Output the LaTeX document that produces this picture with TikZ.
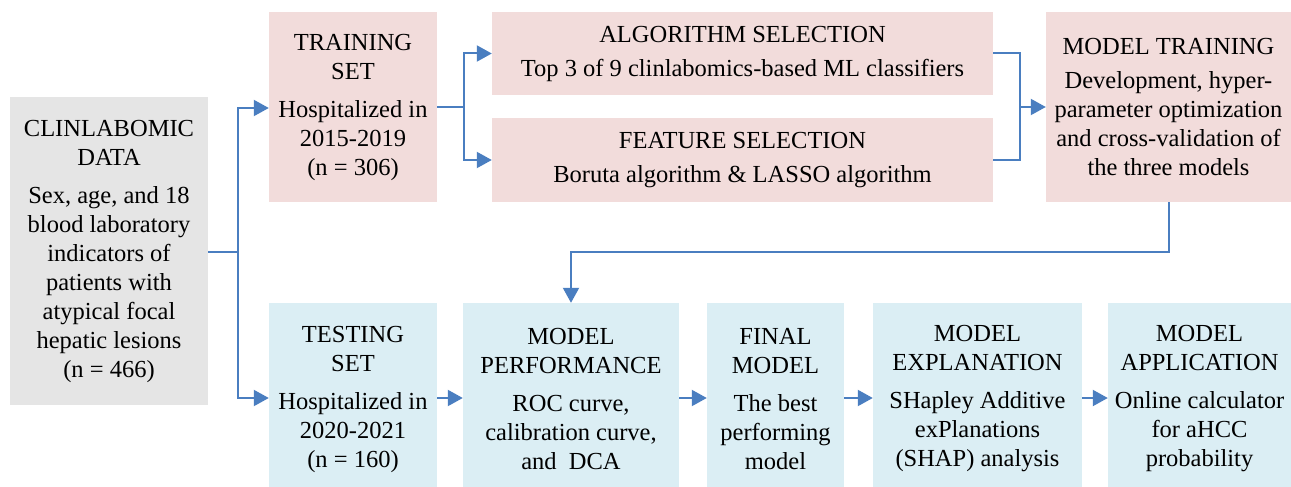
\documentclass[tikz,border=0pt]{standalone}
\usepackage{fontspec}
\setmainfont{Liberation Serif}
\usetikzlibrary{arrows.meta}
\definecolor{pk}{HTML}{F2DCDB}
\definecolor{gy}{HTML}{E5E5E5}
\definecolor{bl}{HTML}{DBEEF4}
\definecolor{ln}{HTML}{4A7EC0}
\tikzset{
  box/.style={rectangle, inner sep=0pt, align=center, text=black,
    font=\fontsize{24.5}{29}\selectfont},
  conn/.style={draw=ln, line width=2pt},
  arr/.style={conn, -{Triangle[length=15pt, width=16pt]}}
}
\begin{document}
\begin{tikzpicture}[x=1pt,y=-1pt]
\useasboundingbox (0,0) rectangle (1291,487);
\begin{scope}
\clip (0,0) rectangle (1291,487);
% top row
\node[box, fill=gy, minimum width=198pt, minimum height=308pt] (clin) at (109,251)
  {CLINLABOMIC\\DATA\\[9pt]Sex, age, and 18\\blood laboratory\\indicators of\\patients with\\atypical focal\\hepatic lesions\\(n = 466)};
\node[box, fill=pk, minimum width=168pt, minimum height=190pt] (train) at (353,107)
  {TRAINING\\SET\\[9pt]Hospitalized in\\2015-2019\\(n = 306)};
\node[box, fill=pk, minimum width=501pt, minimum height=83pt] (algo) at (742.5,53.5)
  {ALGORITHM SELECTION\\[5pt]Top 3 of 9 clinlabomics-based ML classifiers};
\node[box, fill=pk, minimum width=501pt, minimum height=84pt] (feat) at (742.5,160)
  {FEATURE SELECTION\\[5pt]Boruta algorithm \& LASSO algorithm};
\node[box, fill=pk, minimum width=245pt, minimum height=190pt] (mtrain) at (1168.5,107)
  {MODEL TRAINING\\[5pt]Development, hyper-\\parameter optimization\\and cross-validation of\\the three models};
% bottom row
\node[box, fill=bl, minimum width=168pt, minimum height=192pt] (test) at (353,399)
  {TESTING\\SET\\[9pt]Hospitalized in\\2020-2021\\(n = 160)};
\node[box, fill=bl, minimum width=216pt, minimum height=192pt] (perf) at (571,399)
  {MODEL\\PERFORMANCE\\[9pt]ROC curve,\\calibration curve,\\and~ DCA};
\node[box, fill=bl, minimum width=137pt, minimum height=192pt] (final) at (775.5,399)
  {FINAL\\MODEL\\[9pt]The best\\performing\\model};
\node[box, fill=bl, minimum width=209pt, minimum height=192pt] (expl) at (977.5,399)
  {MODEL\\EXPLANATION\\[9pt]SHapley Additive\\exPlanations\\(SHAP) analysis};
\node[box, fill=bl, minimum width=183pt, minimum height=192pt] (app) at (1199.5,399)
  {MODEL\\APPLICATION\\[9pt]Online calculator\\for aHCC\\probability};
\end{scope}
% connectors
\coordinate (j1) at (238,252);
\draw[conn] (clin.east |- j1) -- (j1);
\draw[arr] (j1) |- (train.west |- 0,108);
\draw[arr] (j1) |- (test.west |- 0,398);
\coordinate (j2) at (464,107);
\draw[conn] (train.east |- j2) -- (j2);
\draw[arr] (j2) |- (algo.west);
\draw[arr] (j2) |- (feat.west);
\coordinate (j3) at (1020,107);
\draw[conn] (algo.east) -| (j3);
\draw[conn] (feat.east) -| (j3);
\draw[arr] (j3) -- (mtrain.west |- j3);
\coordinate (j4) at (1169,252);
\coordinate (j5) at (571,252);
\draw[arr] (mtrain.south -| j4) -- (j4) -- (j5) -- (perf.north);
\draw[arr] (test.east |- 0,398) -- (perf.west |- 0,398);
\draw[arr] (perf.east |- 0,398) -- (final.west |- 0,398);
\draw[arr] (final.east |- 0,398) -- (expl.west |- 0,398);
\draw[arr] (expl.east |- 0,398) -- (app.west |- 0,398);
\end{tikzpicture}
\end{document}
